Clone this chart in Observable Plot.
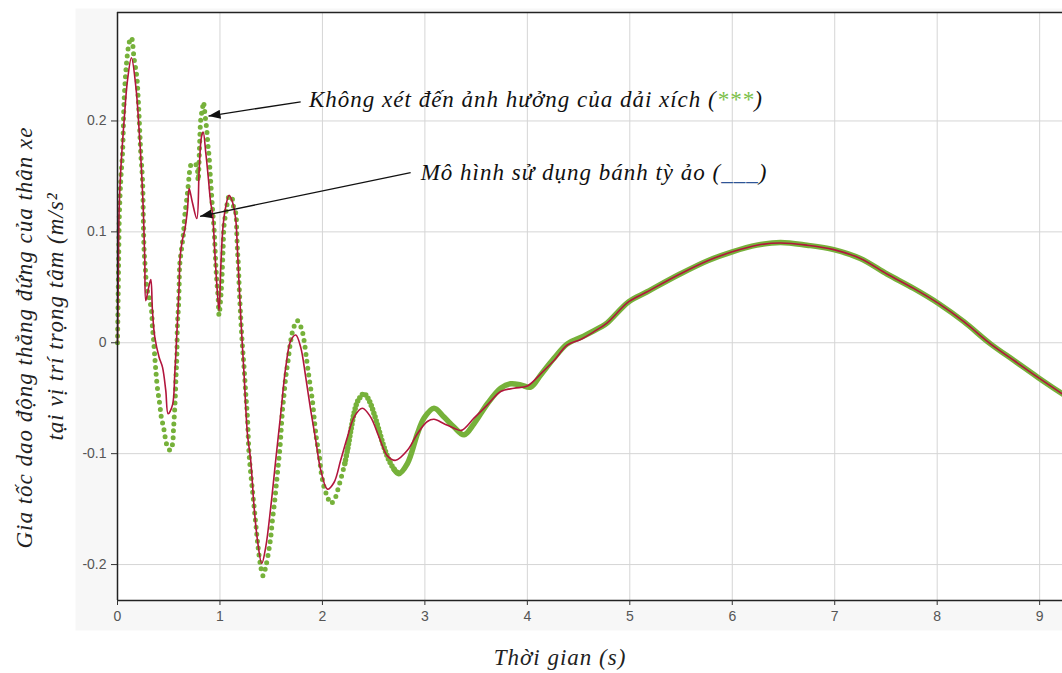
<!DOCTYPE html>
<html>
<head>
<meta charset="utf-8">
<script src="https://cdn.jsdelivr.net/npm/d3@7"></script>
<script src="https://cdn.jsdelivr.net/npm/@observablehq/plot@0.6"></script>
<style>
  html, body { margin: 0; padding: 0; background: #ffffff; }
  #chart { width: 1062px; height: 673px; overflow: hidden; }
  #chart g[font-family*="Serif"] text { letter-spacing: 1px; }
</style>
</head>
<body>
<div id="chart"></div>
<script>
// ---- Data ----
// Red line: "Mô hình sử dụng bánh tỳ ảo"
const redT = [0.000, 0.008, 0.016, 0.032, 0.065, 0.098, 0.136, 0.179, 0.211, 0.234, 0.254, 0.266, 0.276, 0.300, 0.325, 0.341, 0.364, 0.406, 0.439, 0.471, 0.494, 0.537, 0.559, 0.579, 0.601, 0.611, 0.634, 0.657, 0.683, 0.699, 0.732, 0.774, 0.797, 0.820, 0.836, 0.862, 0.885, 0.910, 0.927, 0.949, 0.969, 0.991, 1.008, 1.030, 1.057, 1.089, 1.122, 1.154, 1.171, 1.203, 1.235, 1.268, 1.300, 1.333, 1.366, 1.408, 1.447, 1.496, 1.544, 1.593, 1.642, 1.691, 1.740, 1.788, 1.837, 1.886, 1.935, 1.984, 2.049, 2.113, 2.178, 2.244, 2.309, 2.390, 2.471, 2.552, 2.634, 2.715, 2.829, 2.927, 3.024, 3.089, 3.187, 3.284, 3.356, 3.479, 3.610, 3.740, 3.870, 4.000, 4.130, 4.260, 4.390, 4.520, 4.650, 4.780, 4.990, 5.170, 5.490, 5.760, 6.000, 6.240, 6.470, 6.730, 6.990, 7.250, 7.510, 7.770, 8.020, 8.260, 8.520, 8.750, 8.980, 9.220];
const redA = [0.000, 0.060, 0.120, 0.156, 0.201, 0.237, 0.257, 0.231, 0.192, 0.156, 0.114, 0.075, 0.038, 0.048, 0.057, 0.029, 0.005, -0.013, -0.022, -0.043, -0.064, -0.056, -0.028, 0.008, 0.050, 0.077, 0.093, 0.102, 0.120, 0.139, 0.126, 0.112, 0.156, 0.186, 0.190, 0.171, 0.150, 0.126, 0.117, 0.083, 0.053, 0.029, 0.068, 0.105, 0.123, 0.133, 0.127, 0.111, 0.083, 0.023, -0.028, -0.082, -0.106, -0.148, -0.178, -0.199, -0.184, -0.148, -0.106, -0.064, -0.022, 0.002, 0.007, -0.004, -0.031, -0.061, -0.088, -0.115, -0.132, -0.126, -0.106, -0.085, -0.067, -0.059, -0.067, -0.085, -0.102, -0.106, -0.097, -0.082, -0.071, -0.069, -0.073, -0.077, -0.079, -0.068, -0.056, -0.044, -0.041, -0.039, -0.028, -0.016, -0.002, 0.003, 0.010, 0.018, 0.037, 0.046, 0.062, 0.074, 0.082, 0.088, 0.090, 0.088, 0.084, 0.076, 0.062, 0.049, 0.035, 0.019, -0.001, -0.016, -0.031, -0.046];

// Green dots: "Không xét đến ảnh hưởng của dải xích"
const greenT = [0.000, 0.006, 0.012, 0.018, 0.032, 0.049, 0.065, 0.081, 0.098, 0.118, 0.136, 0.162, 0.188, 0.201, 0.218, 0.227, 0.244, 0.254, 0.260, 0.273, 0.286, 0.310, 0.332, 0.341, 0.351, 0.364, 0.374, 0.390, 0.413, 0.429, 0.449, 0.465, 0.488, 0.514, 0.536, 0.546, 0.553, 0.562, 0.572, 0.579, 0.585, 0.595, 0.601, 0.608, 0.627, 0.644, 0.657, 0.683, 0.699, 0.715, 0.748, 0.774, 0.787, 0.800, 0.813, 0.829, 0.839, 0.855, 0.871, 0.884, 0.894, 0.904, 0.917, 0.930, 0.943, 0.959, 0.969, 0.982, 0.991, 1.008, 1.018, 1.030, 1.040, 1.057, 1.066, 1.089, 1.112, 1.132, 1.154, 1.164, 1.171, 1.180, 1.187, 1.203, 1.220, 1.235, 1.252, 1.268, 1.284, 1.307, 1.327, 1.349, 1.372, 1.398, 1.420, 1.447, 1.479, 1.496, 1.512, 1.535, 1.551, 1.567, 1.586, 1.610, 1.626, 1.642, 1.665, 1.691, 1.717, 1.756, 1.795, 1.821, 1.847, 1.869, 1.902, 1.925, 1.944, 1.967, 1.990, 2.016, 2.049, 2.081, 2.120, 2.152, 2.185, 2.218, 2.250, 2.283, 2.315, 2.348, 2.406, 2.455, 2.504, 2.552, 2.601, 2.650, 2.699, 2.745, 2.829, 2.927, 2.991, 3.089, 3.187, 3.284, 3.382, 3.479, 3.610, 3.740, 3.837, 3.935, 4.032, 4.130, 4.260, 4.390, 4.550, 4.715, 4.780, 4.990, 5.170, 5.490, 5.760, 6.000, 6.240, 6.470, 6.730, 6.990, 7.250, 7.510, 7.770, 8.020, 8.260, 8.520, 8.750, 8.980, 9.220];
const greenA = [0.000, 0.040, 0.080, 0.115, 0.147, 0.171, 0.219, 0.244, 0.261, 0.272, 0.275, 0.256, 0.240, 0.222, 0.189, 0.171, 0.147, 0.102, 0.083, 0.065, 0.050, 0.040, 0.029, 0.014, 0.004, -0.013, -0.025, -0.041, -0.056, -0.068, -0.076, -0.085, -0.094, -0.097, -0.092, -0.079, -0.068, -0.053, -0.028, -0.013, 0.017, 0.032, 0.049, 0.071, 0.086, 0.099, 0.115, 0.135, 0.150, 0.160, 0.162, 0.159, 0.146, 0.175, 0.202, 0.211, 0.217, 0.205, 0.192, 0.177, 0.168, 0.153, 0.135, 0.117, 0.102, 0.071, 0.056, 0.041, 0.025, 0.041, 0.056, 0.083, 0.106, 0.117, 0.123, 0.132, 0.132, 0.123, 0.117, 0.099, 0.083, 0.070, 0.052, 0.022, -0.004, -0.022, -0.046, -0.067, -0.100, -0.124, -0.142, -0.163, -0.184, -0.202, -0.210, -0.202, -0.186, -0.175, -0.160, -0.142, -0.127, -0.112, -0.094, -0.061, -0.046, -0.031, -0.016, 0.002, 0.013, 0.020, 0.013, 0.002, -0.016, -0.031, -0.052, -0.073, -0.088, -0.100, -0.118, -0.130, -0.139, -0.145, -0.141, -0.132, -0.121, -0.109, -0.094, -0.076, -0.061, -0.052, -0.046, -0.052, -0.064, -0.079, -0.094, -0.106, -0.114, -0.118, -0.109, -0.082, -0.068, -0.059, -0.067, -0.076, -0.083, -0.073, -0.055, -0.041, -0.037, -0.038, -0.040, -0.029, -0.014, -0.001, 0.006, 0.014, 0.018, 0.037, 0.046, 0.062, 0.074, 0.082, 0.088, 0.0905, 0.088, 0.084, 0.076, 0.062, 0.049, 0.035, 0.019, -0.001, -0.016, -0.031, -0.046];

// Axes
const xTicks = [0, 1, 2, 3, 4, 5, 6, 7, 8, 9];
const yTicks = [-0.2, -0.1, 0, 0.1, 0.2];
const xDomain = [0, 9.223];
const yDomain = [-0.2324, 0.2978];

// Texts
const xTitle = "Thời gian (s)";
const yTitle1 = "Gia tốc dao động thẳng đứng của thân xe";
const yTitle2 = "tại vị trí trọng tâm (m/s²";

// Annotations (anchors in data units)
const annoPre = ["Không xét đến ảnh hưởng của dải xích (", "Mô hình sử dụng bánh tỳ ảo ("];
const annoKey = ["***", "___"];
const annoPost = [")", ")"];
const annoT = [1.869, 2.959];
const annoA = [0.2128, 0.1467];
const arrowT1 = [1.788, 2.861];
const arrowA1 = [0.2173, 0.1534];
const arrowT2 = [0.888, 0.806];
const arrowA2 = [0.2044, 0.1140];

// ---- Build tables ----
const red = redT.map((t, i) => ({t, a: redA[i]}));
const green = greenT.map((t, i) => ({t, a: greenA[i]}));
const annos = annoPre.map((p, i) => ({t: annoT[i], a: annoA[i], text: p + annoKey[i] + annoPost[i], i}));
const arrows = arrowT1.map((t, i) => ({t1: t, a1: arrowA1[i], t2: arrowT2[i], a2: arrowA2[i]}));

const GREEN = "#76b13a";
const RED = "#b2153d";
const KEYCOLORS = ["#7cc04a", "#2f5597"];
const serif = "Liberation Serif, Times New Roman, serif";
const sans = "Liberation Sans, Arial, sans-serif";

function filledArrow(color) {
  const m = d3.create("svg:marker")
    .attr("viewBox", "-12 -4.5 12 9")
    .attr("markerWidth", 12)
    .attr("markerHeight", 9)
    .attr("markerUnits", "userSpaceOnUse")
    .attr("orient", "auto")
    .attr("fill", color)
    .attr("stroke", "none");
  m.append("path").attr("d", "M-12,-4.5L0,0L-12,4.5Z");
  return m.node();
}

const seg1 = green.filter(d => d.t <= 2.25);
const seg2 = green.filter(d => d.t >= 2.2 && d.t <= 2.75);
const seg3 = green.filter(d => d.t >= 2.699);

const svg = Plot.plot({
  width: 1062,
  height: 673,
  marginLeft: 117,
  marginTop: 12,
  marginRight: 0,
  marginBottom: 73,
  style: {background: "transparent", fontFamily: sans, fontSize: "14px", color: "#444", overflow: "hidden"},
  x: {domain: xDomain, label: null},
  y: {domain: yDomain, label: null},
  marks: [
    Plot.frame({fill: "#f7f7f7", stroke: null, insetLeft: -42, insetTop: -4, insetBottom: -30}),
    Plot.frame({fill: "white", stroke: null}),
    Plot.ruleX(xTicks.filter(d => d > 0), {stroke: "#d5d5d5", strokeWidth: 1}),
    Plot.ruleY(yTicks, {stroke: "#d5d5d5", strokeWidth: 1}),
    Plot.line(seg1, {x: "t", y: "a", stroke: GREEN, strokeWidth: 5, strokeDasharray: "0 7", strokeLinecap: "round", curve: "catmull-rom"}),
    Plot.line(seg2, {x: "t", y: "a", stroke: GREEN, strokeWidth: 5.5, strokeDasharray: "0 4", strokeLinecap: "round", curve: "catmull-rom"}),
    Plot.line(seg3, {x: "t", y: "a", stroke: GREEN, strokeWidth: 5.5, strokeLinecap: "round", curve: "catmull-rom"}),
    Plot.line(red, {x: "t", y: "a", stroke: RED, strokeWidth: 1.6, curve: "catmull-rom"}),
    Plot.ruleX([xDomain[0]], {stroke: "#222", strokeWidth: 1.5}),
    Plot.ruleY([yDomain[0]], {stroke: "#222", strokeWidth: 1.5}),
    Plot.ruleY([yDomain[1]], {stroke: "#222", strokeWidth: 1.5}),
    Plot.axisX({ticks: xTicks, tickSize: 5, tickPadding: 6, tickFormat: d => String(d), label: null, stroke: "#333", fill: "#555", fontSize: 14, fontFamily: sans}),
    Plot.axisY({ticks: yTicks, tickSize: 6, tickPadding: 5, tickFormat: d => d === 0 ? "0" : d.toFixed(1), label: null, stroke: "#333", fill: "#555", fontSize: 14, fontFamily: sans}),
    Plot.link(arrows, {x1: "t1", y1: "a1", x2: "t2", y2: "a2", stroke: "#111", strokeWidth: 1.3, markerEnd: filledArrow}),
    Plot.text(annos, {x: "t", y: "a", text: "text", textAnchor: "start", lineAnchor: "bottom", fontSize: 23, fontStyle: "italic", fontFamily: serif, fill: "#111"}),
    Plot.text([xTitle], {frameAnchor: "bottom", textAnchor: "middle", dx: -30, dy: 57, lineAnchor: "middle", fontSize: 23, fontStyle: "italic", fontFamily: serif, fill: "#222"}),
    Plot.text([yTitle1], {frameAnchor: "left", textAnchor: "middle", dx: -93, dy: 31, rotate: -90, lineAnchor: "middle", fontSize: 23, fontStyle: "italic", fontFamily: serif, fill: "#222"}),
    Plot.text([yTitle2], {frameAnchor: "left", textAnchor: "middle", dx: -62, dy: 10, rotate: -90, lineAnchor: "middle", fontSize: 23, fontStyle: "italic", fontFamily: serif, fill: "#222"})
  ]
});

// Colour the legend keys inside the annotation texts
svg.querySelectorAll("text").forEach(el => {
  const idx = annos.findIndex(d => d.text === el.textContent);
  if (idx < 0) return;
  const sel = d3.select(el);
  sel.text(null);
  sel.append("tspan").text(annoPre[idx]);
  sel.append("tspan").attr("fill", KEYCOLORS[idx]).text(annoKey[idx]);
  sel.append("tspan").text(annoPost[idx]);
});

document.getElementById("chart").appendChild(svg);
</script>
</body>
</html>
